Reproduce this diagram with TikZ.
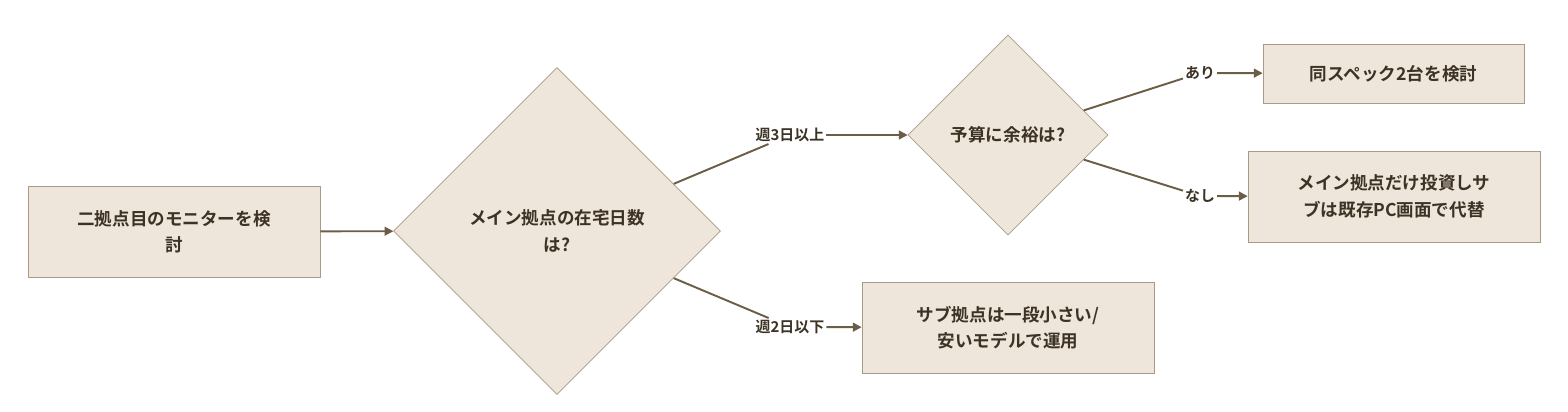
\documentclass[tikz,border=0pt]{standalone}
\usepackage{fontspec}
\setmainfont{Noto Sans CJK JP}[BoldFont={Noto Sans CJK JP Bold}]
\usetikzlibrary{shapes.geometric,arrows.meta}
\definecolor{boxfill}{HTML}{EEE6DA}
\definecolor{boxline}{HTML}{A89A87}
\definecolor{edgeline}{HTML}{6B5D48}
\definecolor{txt}{HTML}{3D3325}
\tikzset{
  box/.style={draw=boxline, fill=boxfill, text=txt, font=\bfseries\fontsize{10}{15}\selectfont, align=center, inner sep=0pt},
  choice/.style={diamond, draw=boxline, fill=boxfill, text=txt, font=\bfseries\fontsize{10}{15}\selectfont, align=center, inner sep=0pt, aspect=1},
  tag/.style={text=txt, font=\bfseries\fontsize{8.5}{10}\selectfont, inner sep=1pt},
  link/.style={draw=edgeline, line width=1.1pt},
  arr/.style={link, -{Triangle[length=5pt,width=5pt]}}
}
\begin{document}
\begin{tikzpicture}[x=0.02cm,y=-0.02cm]
\useasboundingbox (0,0) rectangle (1568,412);
% NODES
\node[box, minimum width=5.84cm, minimum height=1.82cm] (start) at (174,231.5) {二拠点目のモニターを検\\討};
\node[choice, minimum width=6.54cm, minimum height=6.54cm] (days) at (557,231) {メイン拠点の在宅日数\\は?};
\node[choice, minimum width=4cm, minimum height=4cm] (budget) at (1008,135) {予算に余裕は?};
\node[box, minimum width=5.22cm, minimum height=1.18cm] (same) at (1393.5,73.5) {同スペック2台を検討};
\node[box, minimum width=5.84cm, minimum height=1.82cm] (mainonly) at (1394,196.5) {メイン拠点だけ投資しサ\\ブは既存PC画面で代替};
\node[box, minimum width=5.84cm, minimum height=1.82cm] (cheap) at (1008,327.5) {サブ拠点は一段小さい/\\安いモデルで運用};
% LABELS
\node[tag] (many) at (790,135) {週3日以上};
\node[tag] (few) at (790,327) {週2日以下};
\node[tag] (yes) at (1200,73) {あり};
\node[tag] (no) at (1200,196) {なし};
% EDGES
\draw[arr] (start) -- (days);
\draw[link] (days.22.5) -- (many);
\draw[arr] (many) -- (budget);
\draw[link] (days.-22.5) -- (few);
\draw[arr] (few) -- (cheap);
\draw[link] (budget.18) -- (yes);
\draw[arr] (yes) -- (same);
\draw[link] (budget.-18) -- (no);
\draw[arr] (no) -- (mainonly);
\end{tikzpicture}
\end{document}
